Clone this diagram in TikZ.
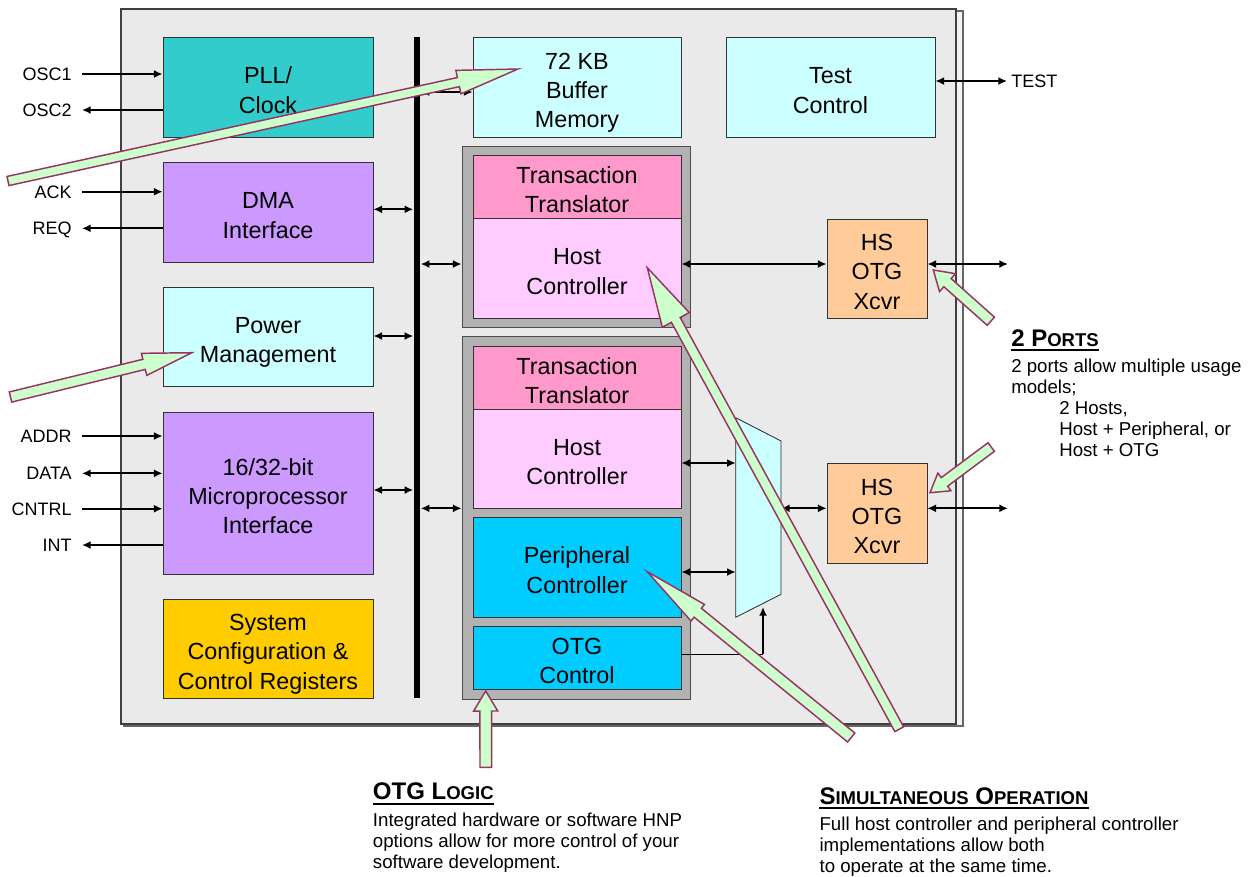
\documentclass[tikz,border=0pt]{standalone}
\usepackage{fontspec}
\setmainfont{Liberation Sans}
\usetikzlibrary{arrows.meta,calc}
\definecolor{chipbg}{HTML}{EAEAEA}
\definecolor{shadowc}{HTML}{F2F2F2}
\definecolor{pllc}{HTML}{33CCCC}
\definecolor{purc}{HTML}{CC99FF}
\definecolor{cyanc}{HTML}{CCFFFF}
\definecolor{yelc}{HTML}{FFCC00}
\definecolor{ttc}{HTML}{FF99CC}
\definecolor{hcc}{HTML}{FFCCFF}
\definecolor{pcc}{HTML}{00CCFF}
\definecolor{hsc}{HTML}{FFCC99}
\definecolor{contc}{HTML}{B2B2B2}
\definecolor{garfill}{HTML}{CCFFCC}
\definecolor{gardraw}{HTML}{993366}
\newcommand{\garrow}[5]{%
  \coordinate (ga-h) at ($(#2)!#5!(#1)$);
  \draw[garr] ($(#1)!#3!90:(#2)$) -- ($(ga-h)!#3!90:(#2)$) -- ($(ga-h)!#4!90:(#2)$) -- (#2)
    -- ($(ga-h)!#4!-90:(#2)$) -- ($(ga-h)!#3!-90:(#2)$) -- ($(#1)!#3!-90:(#2)$) -- cycle;}
\begin{document}
\begin{tikzpicture}[x=0.75pt,y=-0.75pt,
  blk/.style={draw=black!80, line width=0.6pt, inner sep=0pt, align=center,
    font=\fontsize{17.5}{22}\selectfont, text depth=0pt},
  twolines/.style={text height=39.2pt},
  threelines/.style={text height=61.2pt},
  lbl/.style={inner sep=0pt, font=\fontsize{13.5}{16}\selectfont, text height=9.7pt, text depth=0pt},
  sig/.style={line width=1.4pt, -{Latex[length=6.5pt,width=6pt]}},
  dbl/.style={line width=1.4pt, {Latex[length=6.5pt,width=6pt]}-{Latex[length=6.5pt,width=6pt]}},
  garr/.style={fill=garfill, draw=gardraw, line width=1.1pt, line join=miter},
  ttl/.style={anchor=base west, inner sep=0pt, font=\bfseries\fontsize{18}{20}\selectfont},
  desc/.style={anchor=north west, inner sep=0pt, align=left, font=\fontsize{14}{15.75}\selectfont}]
\useasboundingbox (0,0) rectangle (1256,876);

% chip
\draw[fill=shadowc, draw=black!60, line width=0.8pt] (124,11) rectangle (963,726);
\draw[fill=chipbg, draw=black!75, line width=1.1pt] (121,9) rectangle (956,724);

% left column blocks
\node[blk, twolines, fill=pllc, minimum width=157.5pt, minimum height=75pt] (pll) at (268,87) {PLL/\\Clock};
\node[blk, twolines, fill=purc, minimum width=157.5pt, minimum height=75pt] (dma) at (268,212) {DMA\\Interface};
\node[blk, twolines, fill=cyanc, minimum width=157.5pt, minimum height=74.25pt] (pwr) at (268,336.5) {Power\\Management};
\node[blk, threelines, fill=purc, minimum width=157.5pt, minimum height=121.5pt] (mpu) at (268,493) {16/32-bit\\Microprocessor\\Interface};
\node[blk, threelines, fill=yelc, minimum width=157.5pt, minimum height=74.25pt] (cfg) at (268,648.5) {System\\Configuration \&\\Control Registers};

% top row
\node[blk, threelines, fill=cyanc, minimum width=156pt, minimum height=75pt] (buf) at (577,87) {72 KB\\Buffer\\Memory};
\node[blk, twolines, fill=cyanc, minimum width=156.75pt, minimum height=75pt] (tc) at (830.5,87) {Test\\Control};

% containers
\node[draw=black!70, line width=0.6pt, fill=contc, minimum width=171pt, minimum height=135.75pt, inner sep=0pt] (c1) at (576,236.5) {};
\node[draw=black!70, line width=0.6pt, fill=contc, minimum width=171pt, minimum height=272.25pt, inner sep=0pt] (c2) at (576,517.5) {};

\node[blk, twolines, fill=ttc, minimum width=156pt, minimum height=47.25pt] (tt1) at (577,186.5) {Transaction\\Translator};
\node[blk, twolines, fill=hcc, minimum width=156pt, minimum height=75pt] (hc1) at (577,268) {Host\\Controller};
\node[blk, twolines, fill=ttc, minimum width=156pt, minimum height=47.25pt] (tt2) at (577,377.5) {Transaction\\Translator};
\node[blk, twolines, fill=hcc, minimum width=156pt, minimum height=74.25pt] (hc2) at (577,458.5) {Host\\Controller};
\node[blk, twolines, fill=pcc, minimum width=156pt, minimum height=75pt] (pc) at (577,567) {Peripheral\\Controller};
\node[blk, twolines, fill=pcc, minimum width=156pt, minimum height=47.25pt] (otgc) at (577,657.5) {OTG\\Control};

% transceivers
\node[blk, threelines, fill=hsc, minimum width=75pt, minimum height=74.25pt] (hs1) at (877,268.5) {HS\\OTG\\Xcvr};
\node[blk, threelines, fill=hsc, minimum width=75pt, minimum height=75pt] (hs2) at (877,513) {HS\\OTG\\Xcvr};

% mux
\coordinate (m1) at (735.7,417.7);
\coordinate (m2) at (781,441);
\coordinate (m3) at (781,594.3);
\coordinate (m4) at (735.7,617.3);
\draw[fill=cyanc, draw=black!85, line width=0.6pt] (m1) -- (m2) -- (m3) -- (m4) -- cycle;

% left labels and signals
\node[lbl, anchor=east] (osc1) at (72,74) {OSC1};
\node[lbl, anchor=east] (osc2) at (72,110) {OSC2};
\node[lbl, anchor=east] (ack) at (72,191.7) {ACK};
\node[lbl, anchor=east] (req) at (72,228.3) {REQ};
\node[lbl, anchor=east] (addr) at (72,436) {ADDR};
\node[lbl, anchor=east] (data) at (72,473.3) {DATA};
\node[lbl, anchor=east] (cntrl) at (72,508.7) {CNTRL};
\node[lbl, anchor=east] (int) at (72,545) {INT};
\draw[sig] ([xshift=7.5pt]osc1.east) -- (osc1.east -| pll.west);
\draw[sig] (osc2.east -| pll.west) -- ([xshift=7.5pt]osc2.east);
\draw[sig] ([xshift=7.5pt]ack.east) -- (ack.east -| dma.west);
\draw[sig] (req.east -| dma.west) -- ([xshift=7.5pt]req.east);
\draw[sig] ([xshift=7.5pt]addr.east) -- (addr.east -| mpu.west);
\draw[dbl] ([xshift=7.5pt]data.east) -- (data.east -| mpu.west);
\draw[sig] ([xshift=7.5pt]cntrl.east) -- (cntrl.east -| mpu.west);
\draw[sig] (int.east -| mpu.west) -- ([xshift=7.5pt]int.east);

% bus connections
\coordinate (bustop) at (417,37);
\coordinate (busbot) at (417,698);
\coordinate (b0) at (417,209.3);
\coordinate (b1) at (417,336);
\coordinate (b2) at (417,490);
\coordinate (b3) at (417,92);
\coordinate (b4) at (417,264);
\coordinate (b5) at (417,508.3);
\draw[dbl, shorten >=2.8pt] (b0 -| dma.east) -- (b0);
\draw[dbl, shorten >=2.8pt] (b1 -| pwr.east) -- (b1);
\draw[dbl, shorten >=2.8pt] (b2 -| mpu.east) -- (b2);
\draw[dbl, shorten <=2.8pt] (b3) -- (b3 -| buf.west);
\draw[dbl, shorten <=2.8pt] (b4) -- (b4 -| c1.west);
\draw[dbl, shorten <=2.8pt] (b5) -- (b5 -| c2.west);
\draw[line width=5.2pt] (bustop) -- (busbot);

% right side
\node[lbl, anchor=west] (test) at (1011,81) {TEST};
\draw[dbl] (test.west -| tc.east) -- ([xshift=-3pt]test.west);
\coordinate (p1) at (1008,264);
\coordinate (p2) at (1008,508.3);
\draw[dbl] (p1 -| hc1.east) -- (p1 -| hs1.west);
\draw[dbl] (p1 -| hs1.east) -- (p1);
\draw[dbl] (p2 -| hs2.east) -- (p2);

% mux connections
\coordinate (q1) at (735.7,463);
\coordinate (q2) at (735.7,572);
\coordinate (q3) at (781,508.3);
\coordinate (q4) at (763,654);
\coordinate (q5) at (763,607);
\draw[dbl] (q1 -| hc2.east) -- (q1);
\draw[dbl] (q2 -| pc.east) -- (q2);
\draw[dbl] (q3) -- (q3 -| hs2.west);
\draw[line width=0.6pt] (q4 -| otgc.east) -- (q4);
\draw[sig] (q4) -- (q5);

% callout arrows
\coordinate (g1a) at (8,181);      \coordinate (g1b) at (518,69);
\coordinate (g2a) at (10.5,397);   \coordinate (g2b) at (191.7,352.7);
\coordinate (g3a) at (990.8,321.2); \coordinate (g3b) at (933.3,270);
\coordinate (g4a) at (991.2,447);  \coordinate (g4b) at (930,492.7);
\coordinate (g5a) at (485.8,767.3); \coordinate (g5b) at (485.7,691);
\coordinate (g6a) at (899.2,729.2); \coordinate (g6b) at (647.3,267.7);
\coordinate (g7a) at (851.2,737.5); \coordinate (g7b) at (647.3,571.7);
\garrow{g1a}{g1b}{3.5pt}{9pt}{45.75pt}
\garrow{g2a}{g2b}{3.9pt}{8.5pt}{36.75pt}
\garrow{g3a}{g3b}{4.1pt}{9pt}{14.25pt}
\garrow{g4a}{g4b}{4pt}{8.25pt}{13.5pt}
\garrow{g5a}{g5b}{4.35pt}{9pt}{15pt}
\garrow{g6a}{g6b}{3.75pt}{11.5pt}{44.6pt}
\garrow{g7a}{g7b}{4.3pt}{8pt}{48.75pt}

% descriptions
\node[ttl] (t2p) at (1011,346.7) {2 P{\fontsize{13.9}{16}\selectfont ORTS}};
\draw[line width=1.5pt] ([yshift=-2.5pt]t2p.base west) -- ([yshift=-2.5pt]t2p.base east);
\node[desc] (d2p) at (1011,359) {2 ports allow multiple usage\\models;\\\hspace*{36pt}2 Hosts,\\\hspace*{36pt}Host + Peripheral, or\\\hspace*{36pt}Host + OTG};

\node[ttl] (totg) at (372.7,799.3) {OTG L{\fontsize{13.9}{16}\selectfont OGIC}};
\draw[line width=1.5pt] ([yshift=-3.5pt]totg.base west) -- ([yshift=-3.5pt]totg.base east);
\node[desc] (dotg) at (372.7,813) {Integrated hardware or software HNP\\options allow for more control of your\\software development.};

\node[ttl] (tsim) at (819.3,804) {S{\fontsize{13.9}{16}\selectfont IMULTANEOUS} O{\fontsize{13.9}{16}\selectfont PERATION}};
\draw[line width=1.5pt] ([yshift=-3pt]tsim.base west) -- ([yshift=-3pt]tsim.base east);
\node[desc] (dsim) at (819.3,816.4) {Full host controller and peripheral controller\\implementations allow both\\to operate at the same time.};
\end{tikzpicture}
\end{document}
